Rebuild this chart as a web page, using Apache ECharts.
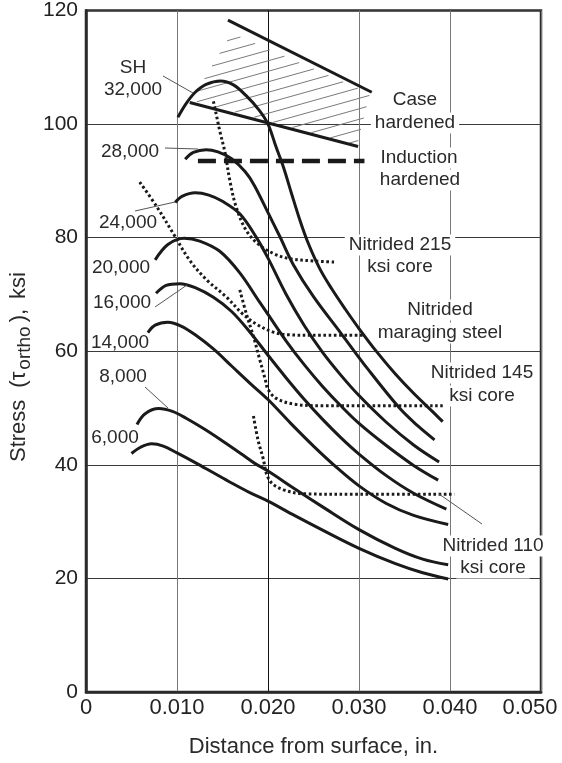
<!DOCTYPE html>
<html>
<head>
<meta charset="utf-8">
<script src="https://cdn.jsdelivr.net/npm/echarts@6/dist/echarts.min.js"></script>
<style>
html,body{margin:0;padding:0;background:#fff;}
#chart{width:562px;height:763px;}
</style>
</head>
<body>
<div id="chart"></div>
<script>
// ---- data (x: distance from surface, in.; y: stress, ksi) ----
const xTickLabels = ['0', '0.010', '0.020', '0.030', '0.040', '0.050'];
const curve6000 = [[0.0050,42.0],[0.0060,43.1],[0.0072,43.7],[0.0085,43.3],[0.0100,42.1],[0.0120,40.4],[0.0140,38.6],[0.0160,36.8],[0.0180,35.1],[0.0200,33.6],[0.0230,31.0],[0.0260,28.5],[0.0300,25.3],[0.0340,22.6],[0.0370,21.0],[0.0398,19.9]];
const curve8000 = [[0.0056,47.1],[0.0065,49.0],[0.0080,49.9],[0.0095,49.4],[0.0110,48.2],[0.0130,46.3],[0.0150,44.2],[0.0170,42.0],[0.0185,40.3],[0.0200,38.9],[0.0230,35.7],[0.0260,32.6],[0.0300,28.6],[0.0340,25.3],[0.0370,23.4],[0.0398,22.4]];
const curve14000 = [[0.0068,63.3],[0.0076,64.6],[0.0090,65.1],[0.0105,64.4],[0.0120,62.9],[0.0140,60.4],[0.0160,57.4],[0.0180,54.4],[0.0200,51.5],[0.0225,47.3],[0.0250,43.3],[0.0275,39.6],[0.0300,36.3],[0.0330,33.2],[0.0360,31.1],[0.0398,29.5]];
const curve16000 = [[0.0077,70.2],[0.0088,71.6],[0.0103,71.9],[0.0120,71.2],[0.0140,69.5],[0.0160,67.0],[0.0180,63.4],[0.0200,59.3],[0.0220,55.3],[0.0240,51.5],[0.0260,48.0],[0.0280,44.8],[0.0300,41.9],[0.0330,38.1],[0.0360,35.0],[0.0396,32.2]];
const curve20000 = [[0.0076,76.1],[0.0090,78.8],[0.0108,79.9],[0.0125,79.4],[0.0147,77.6],[0.0169,73.8],[0.0191,68.6],[0.0200,66.5],[0.0220,61.8],[0.0240,57.6],[0.0260,53.8],[0.0280,50.4],[0.0300,47.3],[0.0330,43.4],[0.0360,39.9],[0.0387,37.3]];
const curve24000 = [[0.0098,86.2],[0.0106,87.3],[0.0120,87.9],[0.0135,87.5],[0.0150,86.4],[0.0169,84.2],[0.0187,80.1],[0.0200,76.4],[0.0220,70.0],[0.0240,64.5],[0.0260,59.8],[0.0280,55.8],[0.0300,52.2],[0.0330,47.5],[0.0360,43.5],[0.0388,40.5]];
const curve28000 = [[0.0109,93.8],[0.0118,95.0],[0.0132,95.5],[0.0145,95.1],[0.0160,93.9],[0.0175,91.6],[0.0185,89.2],[0.0200,84.4],[0.0213,80.2],[0.0228,75.2],[0.0250,69.6],[0.0280,63.2],[0.0310,56.8],[0.0345,49.9],[0.0365,46.8],[0.0383,44.4]];
const curve32000 = [[0.0101,101.2],[0.0110,103.6],[0.0120,105.6],[0.0132,107.0],[0.0148,107.6],[0.0162,106.9],[0.0176,105.0],[0.0190,102.5],[0.0200,100.0],[0.0209,95.9],[0.0217,92.4],[0.0226,87.7],[0.0235,83.1],[0.0244,79.1],[0.0257,74.5],[0.0270,71.0],[0.0285,67.4],[0.0300,64.0],[0.0320,59.8],[0.0340,56.0],[0.0360,52.6],[0.0380,49.5],[0.0392,47.6]];
const nitrided215 = [[0.0140,104.0],[0.0143,101.8],[0.0147,98.8],[0.0153,94.8],[0.0158,90.1],[0.0165,85.4],[0.0176,81.3],[0.0189,78.9],[0.0206,77.2],[0.0224,76.3],[0.0250,75.9],[0.0275,75.7]];
const nitridedMaraging = [[0.0059,89.8],[0.0078,85.4],[0.0096,80.7],[0.0114,76.0],[0.0133,72.5],[0.0154,69.6],[0.0172,66.6],[0.0187,64.8],[0.0205,63.4],[0.0222,62.9],[0.0260,62.8],[0.0306,62.8]];
const nitrided145 = [[0.0169,70.8],[0.0176,66.7],[0.0184,62.6],[0.0191,58.5],[0.0197,55.0],[0.0200,53.3],[0.0209,51.7],[0.0228,50.7],[0.0260,50.4],[0.0300,50.4],[0.0392,50.4]];
const nitrided110 = [[0.0184,48.6],[0.0189,44.4],[0.0195,40.9],[0.0198,38.6],[0.0204,36.8],[0.0217,35.6],[0.0239,34.9],[0.0300,34.8],[0.0405,34.8]];
const inductionHardened = [[0.0123,93.5],[0.0306,93.5]];
const caseTop = [[0.0156,118.3],[0.0314,105.6]];
const caseBottom = [[0.0114,103.8],[0.0299,96.05]];
const caseHatch = [[0.0116,104.2],[0.0160,116.0],[0.0312,105.4],[0.0298,96.3]];

const FONT = '"Liberation Sans", Arial, Helvetica, sans-serif';
const chart = echarts.init(document.getElementById('chart'), null, {renderer: 'canvas'});

function solid(data) {
  return {type: 'line', data: data, smooth: 0.35, showSymbol: false, silent: true,
    lineStyle: {color: '#1a1a1a', width: 3}, z: 5};
}
function dotted(data) {
  return {type: 'line', data: data, smooth: 0.35, showSymbol: false, silent: true,
    lineStyle: {color: '#1a1a1a', width: 3, type: [2.6, 2.6], cap: 'butt'}, z: 4};
}

function hatchRender(params, api) {
  const pts = caseHatch.map(p => api.coord(p));
  const slope = 0.28, step = 10.5;
  const cs = pts.map(p => p[1] + slope * p[0]);
  const cmin = Math.min.apply(null, cs), cmax = Math.max.apply(null, cs);
  const children = [];
  for (let c = cmin + step * 0.6; c < cmax; c += step) {
    const hits = [];
    for (let i = 0; i < pts.length; i++) {
      const a = pts[i], b = pts[(i + 1) % pts.length];
      const fa = a[1] + slope * a[0] - c, fb = b[1] + slope * b[0] - c;
      if ((fa <= 0 && fb > 0) || (fa > 0 && fb <= 0)) {
        const t = fa / (fa - fb);
        hits.push(a[0] + t * (b[0] - a[0]));
      }
    }
    hits.sort((m, n) => m - n);
    for (let k = 0; k + 1 < hits.length; k += 2) {
      children.push({type: 'line', shape: {x1: hits[k], y1: c - slope * hits[k], x2: hits[k + 1], y2: c - slope * hits[k + 1]},
        style: {stroke: '#7a7a7a', lineWidth: 1}});
    }
  }
  return {type: 'group', children: children};
}

function lbl(text, x, y, opt) {
  opt = opt || {};
  return {type: 'text', x: x, y: y, z: 100, silent: true,
    style: {text: text, fill: '#2a2a2a', font: (opt.size || 19) + 'px ' + FONT, align: 'center', verticalAlign: 'middle',
      backgroundColor: opt.bg ? '#fff' : null, padding: opt.bg ? [1, 4, 1, 4] : 0}};
}
function leader(x1, y1, x2, y2) {
  return {type: 'line', z: 90, silent: true, shape: {x1: x1, y1: y1, x2: x2, y2: y2}, style: {stroke: '#555', lineWidth: 1}};
}

const option = {
  backgroundColor: '#fff',
  animation: false,
  grid: {left: 86, right: 21, top: 9.5, bottom: 70, show: true, borderColor: '#2a2a2a', borderWidth: 2.5, containLabel: false},
  xAxis: {
    type: 'value', min: 0, max: 0.05, interval: 0.01,
    axisLine: {show: true, lineStyle: {color: '#2a2a2a', width: 2.5}},
    axisTick: {show: false},
    splitLine: {show: true, lineStyle: {color: ['#777', '#777', '#111', '#777', '#777', '#777'], width: 1}},
    axisLabel: {
      margin: 5, color: '#222', fontSize: 22, fontFamily: FONT,
      formatter: function (v) {
        const i = Math.round(v / 0.01);
        return i === 5 ? '{r|' + xTickLabels[i] + '}' : xTickLabels[i];
      },
      rich: {r: {fontSize: 22, fontFamily: FONT, color: '#222', padding: [0, 22, 0, 0]}}
    },
    name: 'Distance from surface, in.', nameLocation: 'middle', nameGap: 44,
    nameTextStyle: {fontSize: 22, fontFamily: FONT, color: '#2a2a2a'}
  },
  yAxis: {
    type: 'value', min: 0, max: 120, interval: 20,
    axisLine: {show: true, lineStyle: {color: '#2a2a2a', width: 2.5}},
    axisTick: {show: false},
    splitLine: {show: true, lineStyle: {color: '#3a3a3a', width: 1}},
    axisLabel: {margin: 8, color: '#222', fontSize: 21, fontFamily: FONT}
  },
  graphic: [
    {type: 'text', x: 19, y: 367, rotation: Math.PI / 2, z: 100, silent: true,
      style: {text: '{m|Stress}{p|(τ}{s|ortho}{q|),}{m|ksi}', align: 'center', verticalAlign: 'middle',
        rich: {m: {fontSize: 22, fontFamily: FONT, fill: '#2a2a2a', lineHeight: 30},
               p: {fontSize: 22, fontFamily: FONT, fill: '#2a2a2a', lineHeight: 30, padding: [0, 0, 0, 12]},
               q: {fontSize: 22, fontFamily: FONT, fill: '#2a2a2a', lineHeight: 30, padding: [0, 10, 0, 2]},
               s: {fontSize: 19, fontFamily: FONT, fill: '#2a2a2a', lineHeight: 15, verticalAlign: 'bottom', padding: [0, 2, 0, 2]}}}},
    leader(163, 76, 193, 93),
    leader(165, 148, 198, 149),
    leader(135, 211, 175, 202),
    leader(155, 307, 187, 285),
    leader(145, 387, 168, 408),
    leader(439, 494, 482, 524),
    lbl('SH', 133, 68),
    lbl('32,000', 133, 90),
    lbl('28,000', 130, 152),
    lbl('24,000', 128, 223),
    lbl('20,000', 121, 268),
    lbl('16,000', 122, 303),
    lbl('14,000', 120, 343),
    lbl('8,000', 123, 377),
    lbl('6,000', 115, 438),
    lbl('Case', 415, 100, {bg: true}),
    lbl('hardened', 415, 123, {bg: true}),
    lbl('Induction', 419, 158, {bg: true}),
    lbl('hardened', 420, 180, {bg: true}),
    lbl('Nitrided 215', 400, 245, {bg: true}),
    lbl('ksi core', 400, 267, {bg: true}),
    lbl('Nitrided', 440, 310, {bg: true}),
    lbl('maraging steel', 440, 333, {bg: true}),
    lbl('Nitrided 145', 482, 373, {bg: true}),
    lbl('ksi core', 482, 396, {bg: true}),
    lbl('Nitrided 110', 493, 546, {bg: true}),
    lbl('ksi core', 493, 568, {bg: true})
  ],
  series: [
    {type: 'custom', renderItem: hatchRender, data: [[0.02, 100]], silent: true, z: 3},
    solid(curve6000), solid(curve8000), solid(curve14000), solid(curve16000),
    solid(curve20000), solid(curve24000), solid(curve28000), solid(curve32000),
    dotted(nitrided215), dotted(nitridedMaraging), dotted(nitrided145), dotted(nitrided110),
    {type: 'line', data: inductionHardened, showSymbol: false, silent: true,
      lineStyle: {color: '#1a1a1a', width: 4.5, type: [18, 8], cap: 'butt'}, z: 4},
    {type: 'line', data: caseTop, showSymbol: false, silent: true, lineStyle: {color: '#1a1a1a', width: 3}, z: 5},
    {type: 'line', data: caseBottom, showSymbol: false, silent: true, lineStyle: {color: '#1a1a1a', width: 3}, z: 5}
  ]
};
chart.setOption(option);
</script>
</body>
</html>
